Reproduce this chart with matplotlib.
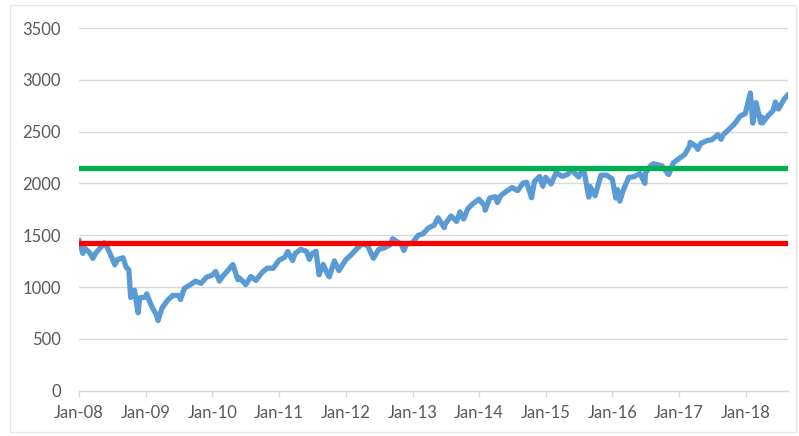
import numpy as np
import pandas as pd
import matplotlib
matplotlib.use('Agg')
import matplotlib.pyplot as plt
from matplotlib.patches import Rectangle
import matplotlib.dates as mdates

# index level (roughly month ends plus the big swings)
dates = [
    '2008-01-02', '2008-01-22', '2008-01-31', '2008-02-29', '2008-03-17', '2008-03-31', '2008-04-30', '2008-05-19',
    '2008-05-30', '2008-06-30', '2008-07-15', '2008-07-31', '2008-08-29', '2008-09-15', '2008-09-30',
    '2008-10-10', '2008-10-31', '2008-11-20', '2008-11-28', '2008-12-31',
    '2009-01-06', '2009-01-30', '2009-02-27', '2009-03-09', '2009-03-31', '2009-04-30', '2009-05-29',
    '2009-06-30', '2009-07-10', '2009-07-31', '2009-08-31', '2009-09-30', '2009-10-30', '2009-11-30', '2009-12-31',
    '2010-01-19', '2010-02-08', '2010-02-26', '2010-03-31', '2010-04-23', '2010-05-20', '2010-05-28', '2010-06-30',
    '2010-07-02', '2010-07-30', '2010-08-27', '2010-09-30', '2010-10-29', '2010-11-30', '2010-12-31',
    '2011-01-31', '2011-02-18', '2011-03-16', '2011-03-31', '2011-04-29', '2011-05-31', '2011-06-16', '2011-06-30',
    '2011-07-22', '2011-08-08', '2011-08-31', '2011-09-22', '2011-10-03', '2011-10-31', '2011-11-25', '2011-12-30',
    '2012-01-31', '2012-02-29', '2012-04-02', '2012-04-30', '2012-06-01', '2012-06-29', '2012-07-31', '2012-08-31',
    '2012-09-14', '2012-10-31', '2012-11-15', '2012-11-30', '2012-12-31',
    '2013-01-31', '2013-02-28', '2013-03-28', '2013-04-30', '2013-05-21', '2013-06-24', '2013-06-28', '2013-07-31',
    '2013-08-30', '2013-09-18', '2013-10-08', '2013-10-31', '2013-11-29', '2013-12-31',
    '2014-01-31', '2014-02-03', '2014-02-28', '2014-03-31', '2014-04-11', '2014-04-30', '2014-05-30', '2014-06-30',
    '2014-07-31', '2014-08-29', '2014-09-18', '2014-10-15', '2014-10-31', '2014-11-28', '2014-12-16', '2014-12-31',
    '2015-01-30', '2015-02-27', '2015-03-31', '2015-04-30', '2015-05-21', '2015-06-30', '2015-07-20', '2015-07-31',
    '2015-08-25', '2015-08-31', '2015-09-28', '2015-10-30', '2015-11-30', '2015-12-31',
    '2016-01-20', '2016-01-29', '2016-02-11', '2016-02-29', '2016-03-31', '2016-04-29', '2016-05-31',
    '2016-06-27', '2016-06-30', '2016-07-29', '2016-08-15', '2016-09-30', '2016-11-04', '2016-11-30', '2016-12-30',
    '2017-01-31', '2017-02-28', '2017-03-01', '2017-03-31', '2017-04-13', '2017-04-28', '2017-05-31', '2017-06-30',
    '2017-07-31', '2017-08-18', '2017-08-31', '2017-09-29', '2017-10-31', '2017-11-30', '2017-12-29',
    '2018-01-26', '2018-02-08', '2018-02-26', '2018-03-23', '2018-03-29', '2018-04-02', '2018-04-30', '2018-05-31',
    '2018-06-12', '2018-06-29', '2018-07-31', '2018-08-17',
]
sp500 = [
    1447, 1325, 1378, 1330, 1277, 1323, 1386, 1427,
    1400, 1280, 1215, 1267, 1283, 1193, 1166,
    899, 969, 752, 896, 903,
    935, 826, 735, 677, 798, 873, 919,
    919, 880, 987, 1021, 1057, 1036, 1096, 1115,
    1150, 1057, 1104, 1169, 1217, 1071, 1089, 1031,
    1023, 1102, 1064, 1141, 1183, 1181, 1258,
    1286, 1343, 1256, 1326, 1364, 1345, 1267, 1321,
    1345, 1119, 1219, 1129, 1099, 1253, 1159, 1258,
    1312, 1366, 1419, 1398, 1278, 1362, 1379, 1407,
    1466, 1412, 1353, 1416, 1426,
    1498, 1515, 1569, 1598, 1669, 1573, 1606, 1686,
    1633, 1725, 1656, 1757, 1806, 1848,
    1783, 1742, 1859, 1872, 1815, 1884, 1924, 1960,
    1931, 2003, 2011, 1862, 2018, 2068, 1973, 2059,
    1995, 2105, 2068, 2086, 2131, 2063, 2129, 2104,
    1868, 1972, 1881, 2079, 2080, 2044,
    1859, 1940, 1829, 1932, 2060, 2065, 2097,
    2001, 2099, 2174, 2190, 2168, 2085, 2199, 2239,
    2279, 2364, 2396, 2363, 2329, 2384, 2412, 2423,
    2470, 2426, 2472, 2519, 2575, 2648, 2674,
    2873, 2581, 2780, 2588, 2641, 2582, 2648, 2705,
    2786, 2718, 2816, 2850,
]
green_level = 2145
red_level = 1425

series = pd.Series(sp500, index=pd.to_datetime(dates))

fig = plt.figure(figsize=(7.99, 4.36), dpi=100)
fig.patches.append(Rectangle((10 / 799, 1 - 432 / 436), 786 / 799, 427 / 436,
                             transform=fig.transFigure, fill=False,
                             edgecolor='#E6E6E6', linewidth=1))
ax = fig.add_axes([79 / 799, 1 - 390.7 / 436, 709 / 799, 362.7 / 436])

ax.plot(series.index, series.values, color='#5B9BD5', linewidth=3.8, solid_joinstyle='round', zorder=3)
ax.axhline(green_level, color='#00B050', linewidth=3.8, zorder=4)
ax.axhline(red_level, color='#FF0000', linewidth=3.8, zorder=4)

ax.set_ylim(0, 3500)
ax.set_yticks(np.arange(0, 3501, 500))
ax.set_xlim(pd.Timestamp('2008-01-01'), pd.Timestamp('2018-08-20'))
ax.xaxis.set_major_locator(mdates.YearLocator())
ax.xaxis.set_major_formatter(mdates.DateFormatter('%b-%y'))

ax.grid(axis='y', color='#D9D9D9', linewidth=1)
ax.set_axisbelow(True)
for s in ['top', 'right', 'left']:
    ax.spines[s].set_visible(False)
ax.spines['bottom'].set_color('#D9D9D9')
ax.spines['bottom'].set_linewidth(1)

ax.tick_params(axis='y', length=0, pad=13, labelsize=12, labelcolor='#595959')
ax.tick_params(axis='x', length=4, width=1, color='#D9D9D9', pad=6, labelsize=12, labelcolor='#595959')
for lbl in ax.get_xticklabels() + ax.get_yticklabels():
    lbl.set_family('Lato')

fig.savefig('out.png', dpi=100)
